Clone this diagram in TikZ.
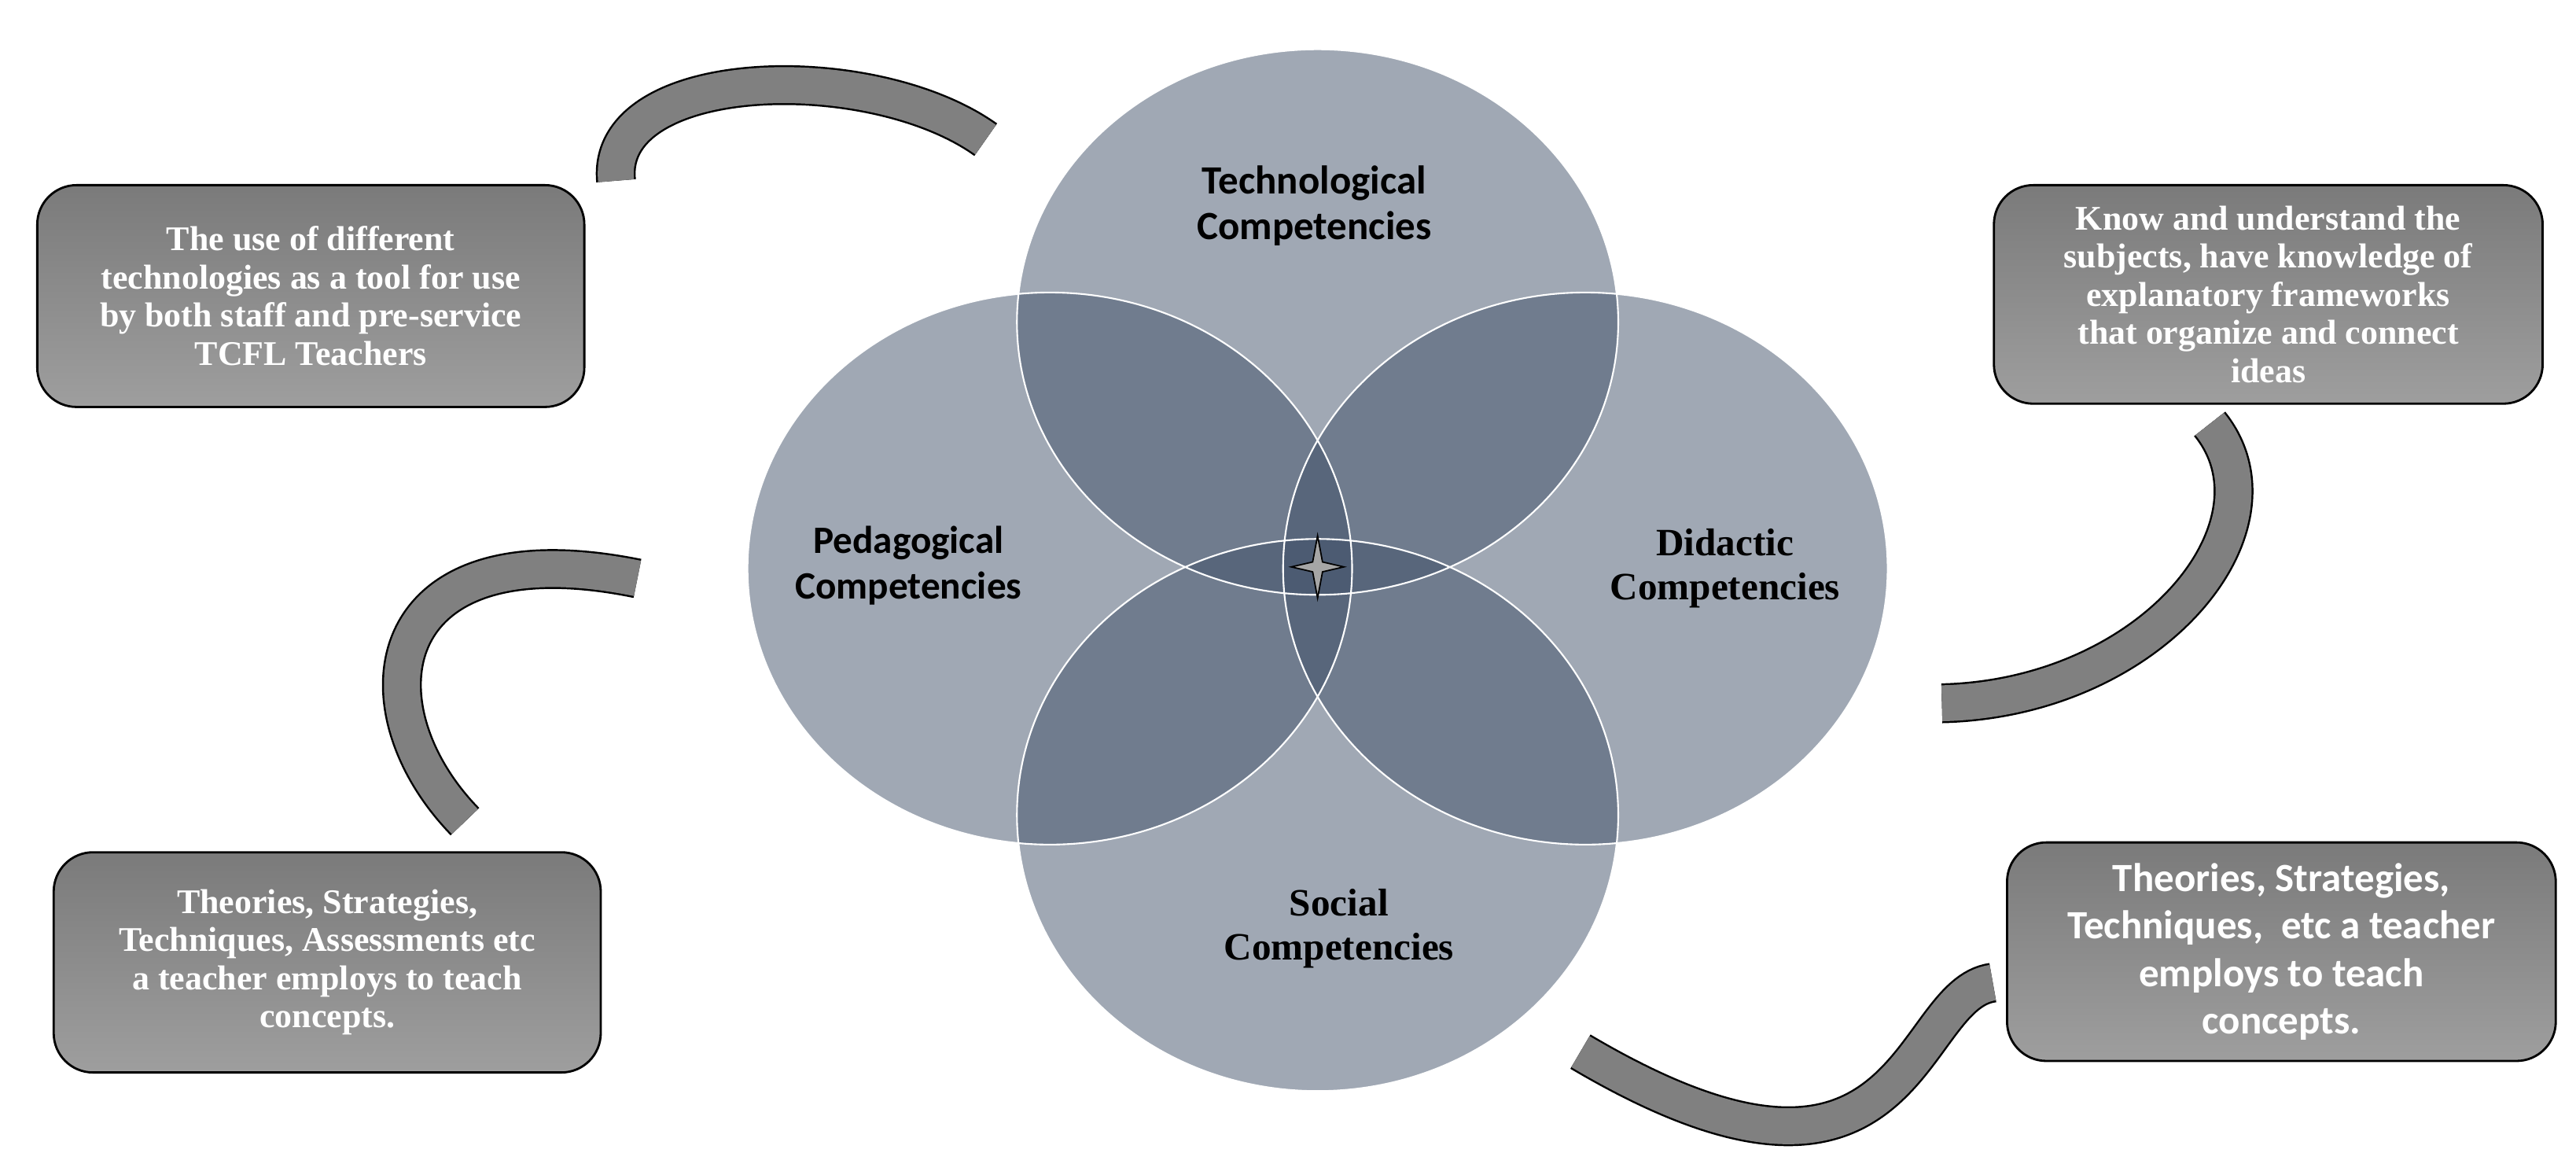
\documentclass[tikz,border=0pt]{standalone}
\usepackage{fontspec}
\setmainfont{Liberation Serif}
\newfontfamily\carl{Carlito}
\usetikzlibrary{decorations.markings}
\definecolor{vc}{RGB}{65,81,105}
\begin{document}
\begin{tikzpicture}[x=0.020893cm,y=-0.020893cm,
 venn/.style={fill=vc,fill opacity=0.5},
 box/.style={rounded corners=0.5cm,draw=black,line width=0.8pt,top color=black!52,bottom color=black!38,
   anchor=north west,inner sep=0pt},
 btxt/.style={align=center,text=white,font=\fontsize{12.5}{13.8}\selectfont\bfseries},
 lab/.style={font=\fontsize{14}{16}\selectfont\bfseries,align=center,text=black},
 carr/.style={draw=black,line width=0.7pt,double=black!50,double distance=13pt,
   postaction={decorate,decoration={markings,mark=at position 1 with {\filldraw[fill=black!50,draw=black,line width=0.5pt] (-1pt,-14pt)--(24pt,0)--(-1pt,14pt)--cycle;}}}}]
\useasboundingbox (0,0) rectangle (1568,708);
\fill[venn] (802,196) ellipse [x radius=183,y radius=166];
\fill[venn] (639,346) ellipse [x radius=184,y radius=168];
\fill[venn] (965,346) ellipse [x radius=184,y radius=168];
\fill[venn] (802,496) ellipse [x radius=183,y radius=168];
\draw[white,line width=0.6pt] (802,196) ellipse [x radius=183,y radius=166]
 (639,346) ellipse [x radius=184,y radius=168] (965,346) ellipse [x radius=184,y radius=168]
 (802,496) ellipse [x radius=183,y radius=168];
\node[lab,font=\fontsize{14.5}{16.5}\selectfont\bfseries\carl] (t) at (800,125) {Technological\\Competencies};
\node[lab,font=\fontsize{14}{16.5}\selectfont\bfseries\carl] (p) at (553,344) {Pedagogical\\Competencies};
\node[lab] (d) at (1050,346) {Didactic\\Competencies};
\node[lab] (s) at (815,565) {Social\\Competencies};
\filldraw[fill=black!35,draw=black,line width=0.5pt] (802,326) -- (805,342) -- (818,345) -- (805,348) -- (802,364) -- (799,348) -- (786,345) -- (799,342) -- cycle;

\node[box,minimum width=333*0.020893cm,minimum height=135*0.020893cm] (b1) at (22,112) {};
\node[btxt] (t1) at (b1.center) {The use of different\\technologies as a tool for use\\by both staff and pre-service\\TCFL Teachers};
\node[box,minimum width=333*0.020893cm,minimum height=134*0.020893cm] (b2) at (32,518) {};
\node[btxt] (t2) at (b2.center) {Theories, Strategies,\\Techniques, Assessments etc\\a teacher employs to teach\\concepts.};
\node[box,minimum width=334*0.020893cm,minimum height=133*0.020893cm] (b3) at (1213,112) {};
\node[btxt] (t3) at (b3.center) {Know and understand the\\subjects, have knowledge of\\explanatory frameworks\\that organize and connect\\ideas};
\node[box,minimum width=334*0.020893cm,minimum height=133*0.020893cm] (b4) at (1221,512) {};
\node[btxt,font=\fontsize{14.5}{17.2}\selectfont\bfseries\carl] (t4) at (b4.center) {Theories, Strategies,\\Techniques,\ \ etc a teacher\\employs to teach\\concepts.};

\draw[carr] (375,110) .. controls (368,40) and (530,35) .. (600,85);
\draw[carr] (283,500) .. controls (215,430) and (230,320) .. (388,352);
\draw[carr] (1345,258) .. controls (1395,320) and (1310,425) .. (1182,428);
\draw[carr] (1213,598) .. controls (1160,605) and (1165,760) .. (962,640);
\end{tikzpicture}
\end{document}
